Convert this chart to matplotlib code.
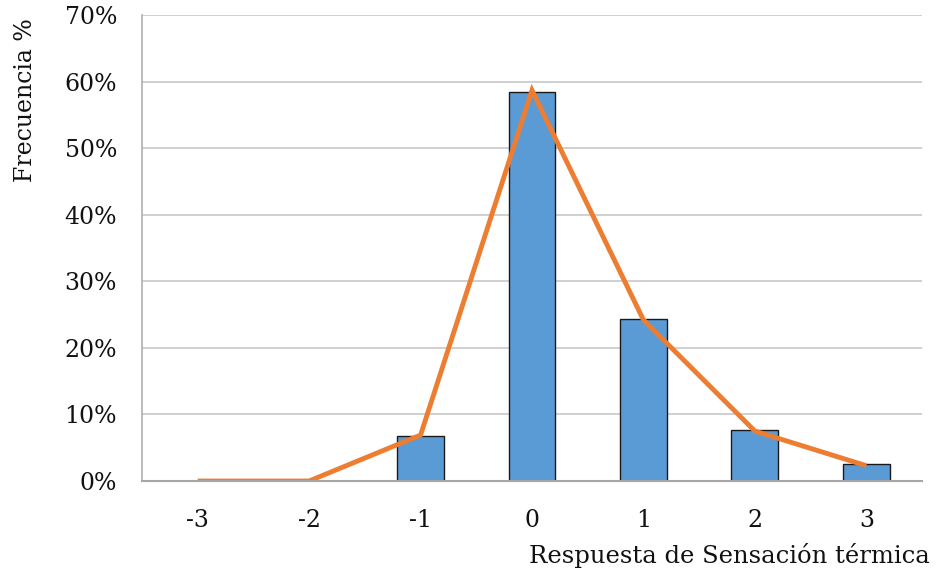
import matplotlib.pyplot as plt
import numpy as np
from matplotlib.ticker import FuncFormatter

# Respuestas en la escala de sensación térmica (-3 .. 3) y frecuencia en %
respuestas = ['-3', '-2', '-1', '0', '1', '2', '3']
frecuencia = [0.0, 0.0, 6.8, 58.5, 24.4, 7.7, 2.5]
linea = [0.0, 0.0, 6.9, 58.7, 24.2, 7.5, 2.3]

plt.rcParams['font.family'] = ['DejaVu Serif']

fig = plt.figure(figsize=(9.38, 5.75), dpi=100)
ax = fig.add_axes([142 / 938, 1 - 481 / 575, 780 / 938, 466 / 575])

x = np.arange(len(respuestas))
ax.bar(x, frecuencia, width=0.42, color='#5B9BD5', edgecolor='#1a1a1a',
       linewidth=1.0, zorder=3)
ax.plot(x, linea, color='#ED7D31', linewidth=3.5, zorder=4,
        solid_capstyle='butt', solid_joinstyle='miter')

ax.set_xlim(-0.5, len(respuestas) - 0.5)
ax.set_ylim(0, 70)
ax.set_yticks(np.arange(0, 71, 10))
ax.yaxis.set_major_formatter(FuncFormatter(lambda v, p: f'{int(v)}%'))
ax.set_xticks(x)
ax.set_xticklabels(respuestas)

ax.grid(axis='y', color='#c8c8c8', linewidth=1.2, zorder=0)
ax.set_axisbelow(True)
for s in ['top', 'right']:
    ax.spines[s].set_visible(False)
ax.spines['left'].set_color('#b0b0b0')
ax.spines['left'].set_linewidth(1.2)
ax.spines['bottom'].set_color('#a6a6a6')
ax.spines['bottom'].set_linewidth(1.5)
ax.spines['bottom'].set_zorder(5)

ax.tick_params(axis='both', length=0, labelsize=17, colors='#111111')
ax.tick_params(axis='y', pad=18)
ax.tick_params(axis='x', pad=20)

fig.text(930 / 938, 1 - 555 / 575, 'Respuesta de Sensación térmica',
         ha='right', va='center', fontsize=17.5, color='#111111')
fig.text(26 / 938, 1 - 18 / 575, 'Frecuencia %', rotation=90,
         ha='center', va='top', fontsize=17, color='#111111')

fig.savefig('out.png', dpi=100)
